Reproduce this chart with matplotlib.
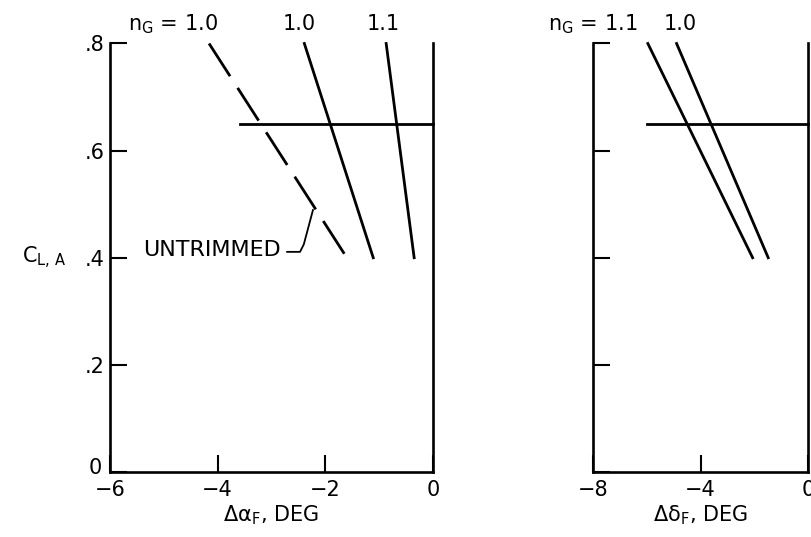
import numpy as np
import matplotlib
matplotlib.use("Agg")
import matplotlib.pyplot as plt
from matplotlib.transforms import ScaledTranslation

# C_L,A range
cl_ends = [0.8, 0.4]
cl_trim = 0.65

# left panel: delta alpha_F (deg) at C_L = .8 and .4
alpha_untrimmed = [-4.16, -1.60]   # n_G = 1.0, dashed
alpha_10 = [-2.39, -1.11]          # n_G = 1.0
alpha_11 = [-0.87, -0.35]          # n_G = 1.1
alpha_trim_from = -3.58

# right panel: delta delta_F (deg) at C_L = .8 and .4
delta_11 = [-5.96, -2.06]          # n_G = 1.1
delta_10 = [-4.89, -1.48]          # n_G = 1.0
delta_trim_from = -6.0

# leader for the UNTRIMMED note
leader_x = [-2.71, -2.47, -2.40, -2.23]
leader_y = [0.411, 0.411, 0.425, 0.489]

yticks = [0, 0.2, 0.4, 0.6, 0.8]
ylabels = ["0", ".2", ".4", ".6", ".8"]
left_xticks = [-6, -4, -2, 0]
right_xticks = [-8, -4, 0]

W, H = 811, 537
fig = plt.figure(figsize=(W / 100, H / 100), dpi=100)
ax1 = fig.add_axes([110 / W, 1 - 472 / H, 323 / W, 428.5 / H])
ax2 = fig.add_axes([593 / W, 1 - 472 / H, 215 / W, 428.5 / H])

lw = 2.0
for ax in (ax1, ax2):
    ax.set_ylim(0, 0.8)
    ax.spines["top"].set_visible(False)
    for s in ("left", "right", "bottom"):
        ax.spines[s].set_linewidth(1.9)
    ax.set_yticks(yticks)
    ax.tick_params(direction="in", length=12, width=1.5, labelsize=15,
                   top=False, right=False)
    ax.tick_params(axis="x", pad=6)
    ax.tick_params(axis="y", pad=4)

# left panel
ax1.set_xlim(-6, 0)
ax1.set_xticks(left_xticks)
ax1.set_xticklabels([str(v).replace("-", "\u2212") for v in left_xticks])
ax1.set_yticklabels(ylabels)
# lift the "0" a little so it clears the "-6" below it
zero = ax1.get_yticklabels()[0]
zero.set_transform(zero.get_transform() + ScaledTranslation(-2 / 72, 4 / 72, fig.dpi_scale_trans))

ax1.plot(alpha_untrimmed, cl_ends, color="black", lw=lw, ls=(0, (14, 5)), clip_on=False)
ax1.plot(alpha_10, cl_ends, color="black", lw=lw, clip_on=False)
ax1.plot(alpha_11, cl_ends, color="black", lw=lw, clip_on=False)
ax1.plot([alpha_trim_from, 0], [cl_trim, cl_trim], color="black", lw=lw, clip_on=False)
ax1.plot(leader_x, leader_y, color="black", lw=1.3)
ax1.text(-5.39, 0.4145, "UNTRIMMED", fontsize=16, va="center", ha="left")
ax1.text(-3.99, 0.825, "n$_\\mathregular{G}$ = 1.0", fontsize=15, ha="right", va="baseline")
ax1.text(-2.49, 0.825, "1.0", fontsize=15, ha="center", va="baseline")
ax1.text(-0.93, 0.825, "1.1", fontsize=15, ha="center", va="baseline")
ax1.text(-7.64, 0.4, "C$_\\mathregular{L,\\,A}$", fontsize=15, ha="left", va="center")
ax1.set_xlabel("\u0394\u03b1$_\\mathregular{F}$, DEG", fontsize=15, labelpad=2)

# right panel
ax2.set_xlim(-8, 0)
ax2.set_xticks(right_xticks)
ax2.set_xticklabels([str(v).replace("-", "\u2212") for v in right_xticks])
ax2.set_yticklabels([])
ax2.plot(delta_11, cl_ends, color="black", lw=lw, clip_on=False)
ax2.plot(delta_10, cl_ends, color="black", lw=lw, clip_on=False)
ax2.plot([delta_trim_from, 0], [cl_trim, cl_trim], color="black", lw=lw, clip_on=False)
ax2.text(-6.36, 0.825, "n$_\\mathregular{G}$ = 1.1", fontsize=15, ha="right", va="baseline")
ax2.text(-4.77, 0.825, "1.0", fontsize=15, ha="center", va="baseline")
ax2.set_xlabel("\u0394\u03b4$_\\mathregular{F}$, DEG", fontsize=15, labelpad=2)

fig.savefig("out.png", dpi=100)
